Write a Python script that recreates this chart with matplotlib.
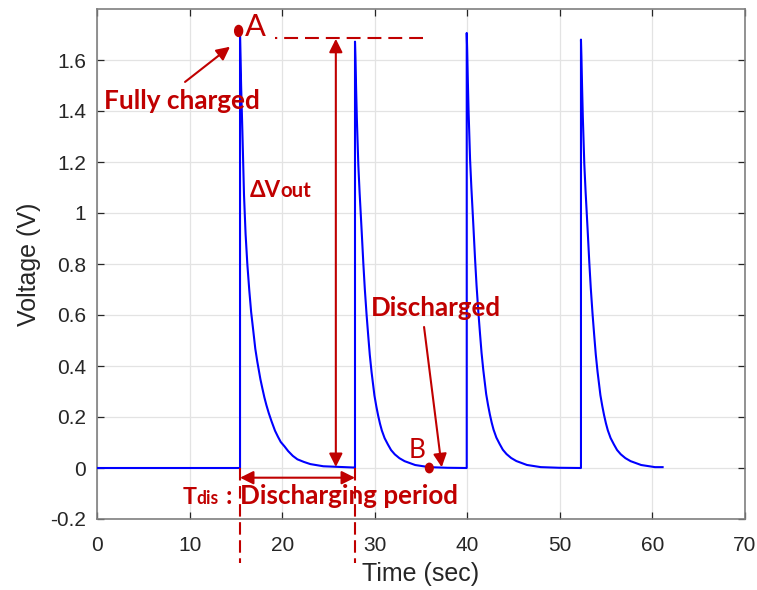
import numpy as np
import matplotlib
matplotlib.use("Agg")
import matplotlib.pyplot as plt
from matplotlib.patches import Ellipse

# ---------------- data ----------------
pulse_start = [15.45, 27.87, 39.94, 52.28]     # s, instant of the charge spike
pulse_peak = [1.70, 1.672, 1.706, 1.68]        # V, peak voltage of each spike
t_end = 61.1                                   # s, last sample

# discharge profiles (offset after spike in s, fraction of peak)
decay1_dt = [0.0, 0.05, 0.12, 0.25, 0.43, 0.6, 0.79, 1.0, 1.2, 1.44, 1.65,
             1.87, 2.2, 2.4, 2.63, 2.85, 3.1, 3.4, 3.78, 4.1, 4.4, 4.8, 5.2,
             5.7, 6.2, 6.9, 7.6, 9.0, 12.4]
decay1_fr = [1.0, 0.95, 0.88, 0.78, 0.63, 0.54, 0.47, 0.41, 0.36, 0.315, 0.275,
             0.245, 0.205, 0.185, 0.163, 0.145, 0.127, 0.108, 0.086, 0.072, 0.06,
             0.05, 0.039, 0.028, 0.02, 0.014, 0.009, 0.004, 0.001]
decay2_dt = [0.0, 0.05, 0.12, 0.2, 0.36, 0.5, 0.71, 0.9, 1.06, 1.25, 1.43, 1.6,
             1.79, 2.1, 2.3, 2.5, 2.7, 2.9, 3.2, 3.56, 3.9, 4.3, 4.8, 5.36,
             6.5, 8.0, 10.0]
decay2_fr = [1.0, 0.96, 0.89, 0.82, 0.71, 0.645, 0.56, 0.48, 0.42, 0.36, 0.31,
             0.265, 0.225, 0.17, 0.145, 0.123, 0.104, 0.088, 0.07, 0.055, 0.042,
             0.032, 0.023, 0.016, 0.007, 0.002, 0.0005]
pulse_profile = [(decay1_dt, decay1_fr), (decay2_dt, decay2_fr),
                 (decay2_dt, decay2_fr), (decay2_dt, decay2_fr)]

x_ticks = [0, 10, 20, 30, 40, 50, 60, 70]
y_ticks = [-0.2, 0, 0.2, 0.4, 0.6, 0.8, 1.0, 1.2, 1.4, 1.6]
y_tick_labels = ["-0.2", "0", "0.2", "0.4", "0.6", "0.8", "1", "1.2", "1.4", "1.6"]

# build the time series
t = [0.0]
v = [0.0]
for i, (ts, vp) in enumerate(zip(pulse_start, pulse_peak)):
    last = i + 1 == len(pulse_start)
    t_next = t_end if last else pulse_start[i + 1]
    t.append(ts); v.append(0.0)
    dts, frs = pulse_profile[i]
    for dt, fr in zip(dts, frs):
        if ts + dt < t_next:
            t.append(ts + dt); v.append(vp * fr)
    t.append(t_next); v.append(v[-1] if last else 0.0)

# ---------------- figure ----------------
RED = "#C00000"
BLUE = "#0000FF"
plt.rcParams["lines.scale_dashes"] = False
plt.rcParams["font.family"] = ["Liberation Sans", "DejaVu Sans"]

fig = plt.figure(figsize=(7.57, 5.90), dpi=100)
ax = fig.add_axes([97 / 757, 1 - 519 / 590, 648 / 757, 510 / 590])

ax.plot(t, v, color=BLUE, lw=1.5, zorder=3, solid_joinstyle="round")

ax.set_xlim(0, 70)
ax.set_ylim(-0.2, 1.8)
ax.set_xticks(x_ticks)
ax.set_yticks(y_ticks)
ax.set_yticklabels(y_tick_labels)
ax.grid(True, color="#e3e3e3", lw=0.9)
ax.set_axisbelow(True)
for s in ax.spines.values():
    s.set_color("#7f7f7f")
    s.set_linewidth(1.2)
ax.tick_params(direction="in", length=5, width=0.9, color="#262626",
               labelcolor="#262626", labelsize=15, top=True, right=True)
ax.tick_params(axis="x", pad=12)
ax.tick_params(axis="y", pad=8)
xl = ax.set_xlabel("Time (sec)", fontsize=18, color="#262626")
yl = ax.set_ylabel("Voltage (V)", fontsize=18, color="#262626")
xl.set_va("center")
yl.set_va("center")
ax.xaxis.set_label_coords(0.5, -0.107)
ax.yaxis.set_label_coords(-0.1054, 0.5)

# ---------------- annotations ----------------
ann_font = ["Lato", "DejaVu Sans"]
renderer = fig.canvas.get_renderer()


def place(txt, x, y, size, bold=True, target_w=None):
    tx = ax.text(x, y, txt, color=RED, fontsize=size, family=ann_font,
                 fontweight="bold" if bold else "normal",
                 ha="left", va="baseline", zorder=5)
    if target_w is not None:
        w = tx.get_window_extent(renderer).width
        tx.set_fontsize(size * target_w / w)
    return tx


place("Fully charged", 0.79, 1.407, 17, target_w=156)
place("ΔV", 16.53, 1.063, 17, target_w=31)
place("out", 19.84, 1.063, 15, target_w=31)
place("Discharged", 29.56, 0.595, 17, target_w=130)
place("A", 15.99, 1.693, 24, bold=False, target_w=21)
place("B", 33.7, 0.041, 20, bold=False, target_w=17)
place("T", 9.21, -0.143, 17, target_w=14)
place("dis", 10.77, -0.143, 12, target_w=22)
place(":", 13.94, -0.143, 18)
place("Discharging period", 15.45, -0.143, 17, target_w=218)

# points A and B
ax.add_patch(Ellipse((15.3, 1.714), 0.86, 0.043, color=RED, zorder=6))
ax.add_patch(Ellipse((35.9, 0.0), 0.83, 0.037, color=RED, zorder=6))

arrow = dict(arrowstyle="-|>", color=RED, lw=1.5, mutation_scale=20,
             shrinkA=0, shrinkB=0)
dbl = dict(arrowstyle="<|-|>", color=RED, lw=1.5, mutation_scale=20,
           shrinkA=0, shrinkB=0)
ax.annotate("", xy=(14.37, 1.652), xytext=(9.51, 1.514), arrowprops=arrow, zorder=6)
ax.annotate("", xy=(37.24, 0.003), xytext=(35.33, 0.553), arrowprops=arrow, zorder=6)
ax.annotate("", xy=(25.8, 1.683), xytext=(25.8, 0.004), arrowprops=dbl, zorder=6)
ax.annotate("", xy=(15.45, -0.038), xytext=(27.87, -0.038), arrowprops=dbl, zorder=6)

# dashed reference lines
ax.plot([19.23, 35.25], [1.687, 1.687], color=RED, lw=1.5,
        linestyle=(8.4, (10.0, 5.0)), dash_capstyle="butt", zorder=4)
for xv in (15.45, 27.87):
    ax.plot([xv, xv], [0.0, -0.374], color=RED, lw=1.5, linestyle=(0, (9.0, 4.0)),
            clip_on=False, zorder=4)

fig.savefig("out.png", dpi=100)
